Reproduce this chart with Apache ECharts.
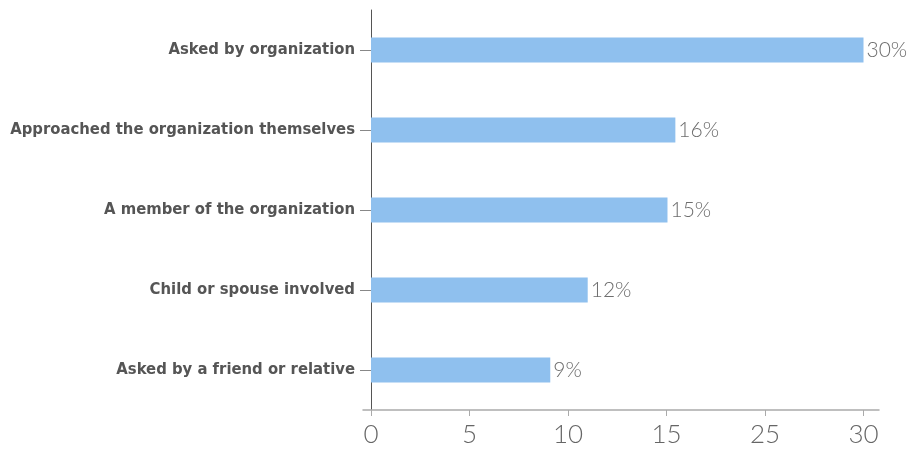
<!DOCTYPE html>
<html>
<head>
<meta charset="utf-8">
<script src="https://cdn.jsdelivr.net/npm/echarts@6/dist/echarts.min.js"></script>
<style>html,body{margin:0;padding:0;background:#fff}#chart{width:911px;height:453px}</style>
</head>
<body>
<div id="chart"></div>
<script>
// Categories, top to bottom
const categories = [
  'Asked by organization',
  'Approached the organization themselves',
  'A member of the organization',
  'Child or spouse involved',
  'Asked by a friend or relative'
];
// Printed value labels (%)
const percentLabels = [30, 16, 15, 12, 9];
// Bar lengths read against the evenly spaced axis (tick index x 5)
const barLengths = [25.15, 15.45, 15.05, 11.0, 9.1];
// Tick labels printed at each evenly spaced tick
const tickLabels = ['0', '5', '10', '15', '25', '30'];

const chart = echarts.init(document.getElementById('chart'));
const labelFont = '"Liberation Sans Narrow", "DejaVu Sans Condensed", "Arial Narrow", sans-serif';
const lightFont = '"Helvetica Neue", Lato, "Open Sans", sans-serif';

chart.setOption({
  animation: false,
  grid: [
    { left: 371, right: 47.5, top: 10, bottom: 43, outerBoundsMode: 'none', containLabel: false },
    { left: 363, right: 32, top: 10, bottom: 43, outerBoundsMode: 'none', containLabel: false }
  ],
  xAxis: [
    {
      type: 'value', gridIndex: 0, min: 0, max: 25, interval: 5,
      axisLine: { show: false },
      axisTick: { show: true, length: 6, lineStyle: { color: '#aaaaaa', width: 1 } },
      splitLine: { show: false },
      axisLabel: {
        margin: 12, fontSize: 26, fontWeight: 300, color: '#666666', fontFamily: lightFont,
        formatter: function (v) { const i = Math.round(v / 5); return (Math.abs(v - i * 5) < 1e-6 && tickLabels[i] != null) ? tickLabels[i] : ''; }
      }
    },
    {
      type: 'value', gridIndex: 1, min: 0, max: 1,
      axisLine: { show: true, lineStyle: { color: '#aaaaaa', width: 1.5 } },
      axisTick: { show: false }, axisLabel: { show: false }, splitLine: { show: false }
    }
  ],
  yAxis: [
    {
      type: 'category', gridIndex: 0, data: categories, inverse: true,
      axisLine: { show: true, onZero: true, lineStyle: { color: '#555555', width: 1 } },
      axisTick: { show: true, alignWithLabel: true, length: 11, lineStyle: { color: '#888888', width: 1 } },
      axisLabel: { margin: 16, fontSize: 16.5, fontWeight: 'bold', color: '#555555', fontFamily: labelFont }
    },
    {
      type: 'category', gridIndex: 1, data: categories, show: false
    }
  ],
  series: [{
    type: 'bar', xAxisIndex: 0, yAxisIndex: 0,
    data: barLengths,
    barWidth: 25,
    itemStyle: { color: '#8fc0ee' },
    label: {
      show: true, position: 'right', distance: 3,
      fontSize: 21, fontWeight: 300, color: '#6e6e6e', fontFamily: lightFont,
      formatter: function (p) { return percentLabels[p.dataIndex] + '%'; }
    }
  }]
});
</script>
</body>
</html>
